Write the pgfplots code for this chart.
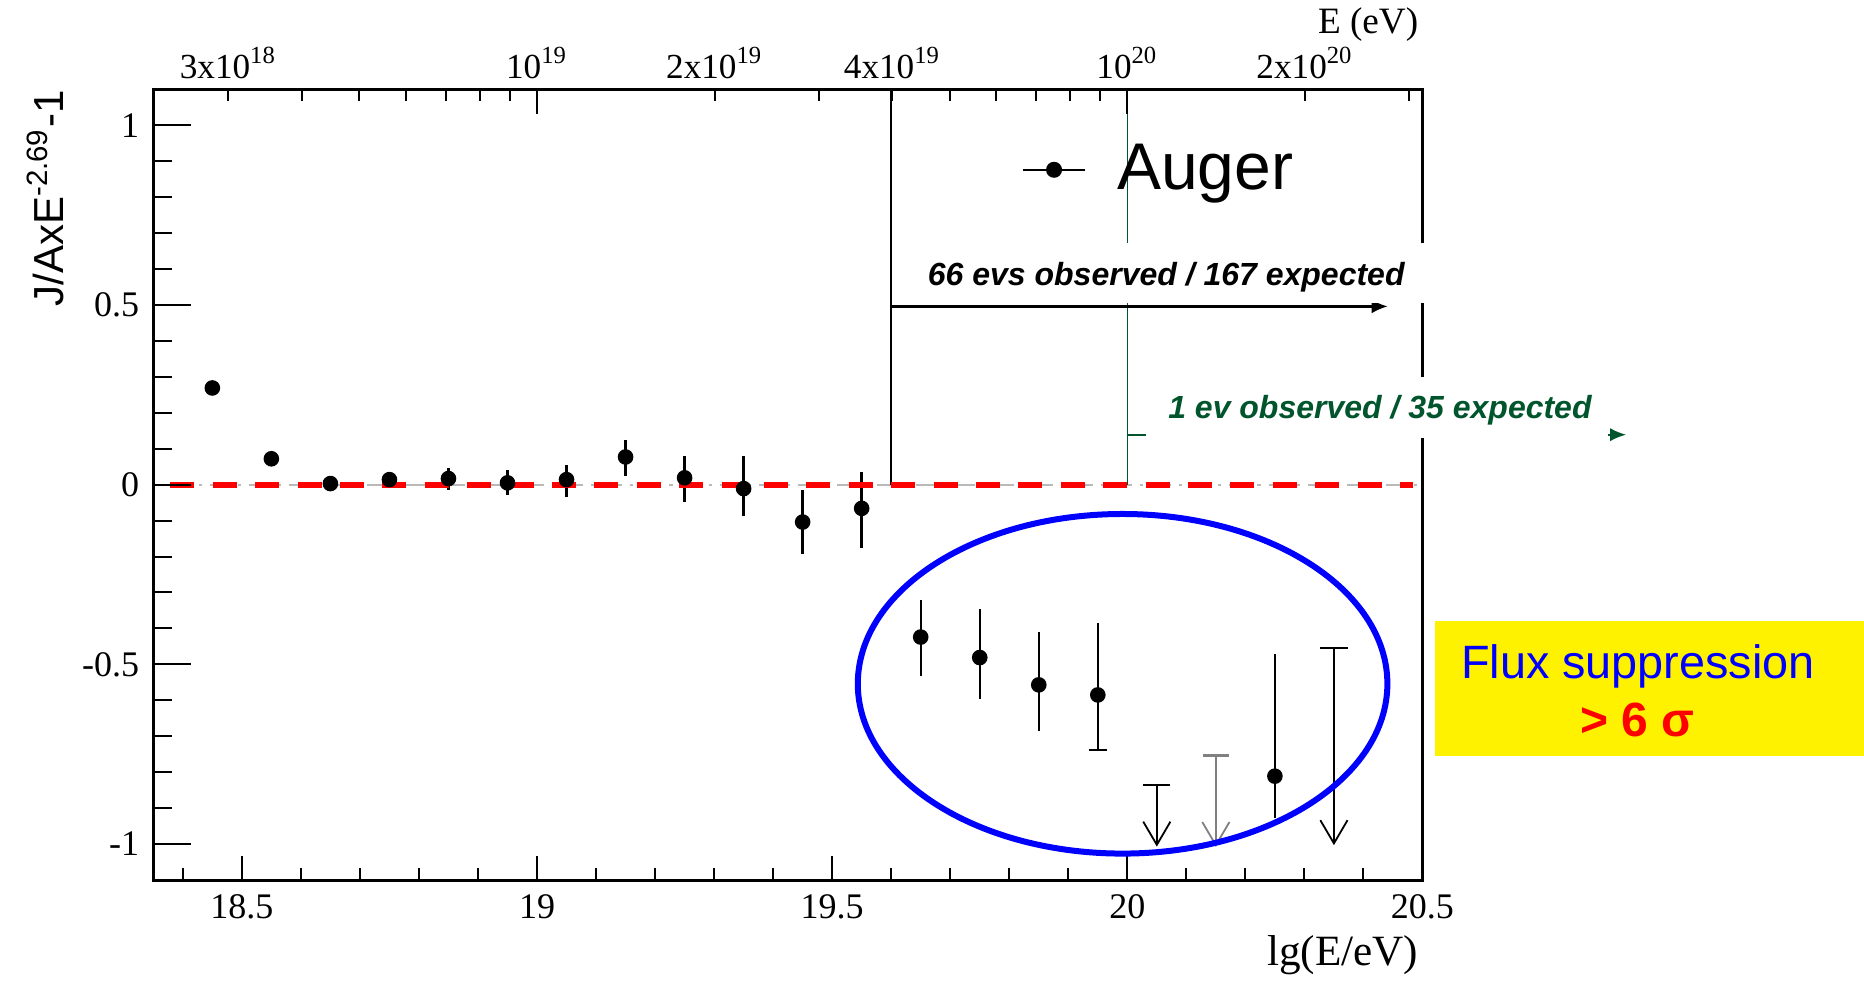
\documentclass[border=0pt]{standalone}
\usepackage{fontspec}
\setmainfont{Liberation Serif}
\newfontfamily\arial{Liberation Sans}
\usepackage{pgfplots}
\pgfplotsset{compat=1.18}
\usepackage{pgfplotstable}
\usetikzlibrary{arrows.meta}
\definecolor{dkgreen}{RGB}{0,85,45}

\pgfplotstableread{
x y ep em
18.45 0.269 0.004 0.004
18.55 0.072 0.006 0.006
18.65 0.003 0.010 0.010
18.75 0.014 0.015 0.015
18.85 0.017 0.029 0.031
18.95 0.005 0.035 0.035
19.05 0.014 0.042 0.049
19.15 0.077 0.048 0.054
19.25 0.019 0.060 0.068
19.35 -0.011 0.090 0.076
19.45 -0.104 0.088 0.090
19.55 -0.066 0.102 0.111
19.65 -0.424 0.103 0.107
19.75 -0.481 0.134 0.116
19.85 -0.557 0.146 0.129
19.95 -0.585 0.199 0.153
20.25 -0.811 0.339 0.116
}\augerdata

\pgfplotstableread{
x y v
20.05 -0.835 -0.172
20.35 -0.455 -0.548
}\ulblack

\pgfplotstableread{
x y v
20.15 -0.753 -0.255
}\ulgray

\pgfplotsset{
  common/.style={
    scale only axis, width=317.3pt, height=197.7pt,
    xmin=18.35, xmax=20.5, ymin=-1.1, ymax=1.1,
    axis line style={line width=0.75pt},
    tick align=inside,
    tick style={line width=0.5pt, black},
    /pgf/number format/assume math mode=true,
  }
}

\begin{document}
\begin{tikzpicture}
\begin{axis}[common,
  clip=false,
  xtick={18.5,19,19.5,20,20.5},
  minor xtick={18.4,18.6,18.7,18.8,18.9,19.1,19.2,19.3,19.4,19.6,19.7,19.8,19.9,20.1,20.2,20.3,20.4},
  xtick pos=left,
  ytick=\empty,
  major tick length=6pt, minor tick length=3pt,
  xticklabel style={font=\fontsize{9}{10}\selectfont},
  legend style={at={(axis cs:19.821,0.876)}, anchor=west, draw=none, fill=none,
    inner sep=0pt, outer sep=0pt, font=\arial\fontsize{16.5}{18}\selectfont,
    column sep=7.7pt, nodes={inner sep=0pt}},
  legend image code/.code={\draw[line width=0.5pt] (0pt,0pt) -- (15.7pt,0pt);
    \fill (7.85pt,0pt) circle (1.8pt);},
]
% invisible frame fixing the picture size
\path (rel axis cs:-0.1208,-0.1277) rectangle (rel axis cs:1.3479,1.1129);

\addplot[forget plot, color=gray!55, line width=0.5pt,
  dash pattern=on 5pt off 2pt on 0.8pt off 2pt] coordinates {(18.38,0) (20.49,0)};
\addplot[forget plot, black, line width=0.5pt] coordinates {(19.6,0) (19.6,1.1)};
\addplot[forget plot, dkgreen, line width=0.4pt] coordinates {(20,0) (20,1.1)};
\addplot[forget plot, black, line width=0.6pt, -{Latex[length=4pt,width=3.5pt]}]
  coordinates {(19.6,0.4958) (20.441,0.4958)};
\addplot[forget plot, dkgreen, line width=0.5pt, -{Latex[length=4pt,width=3.3pt]}]
  coordinates {(20,0.139) (20.845,0.139)};

\fill[white] (axis cs:19.65,0.505) rectangle (axis cs:20.56,0.672);
\fill[white] (axis cs:20.032,0.131) rectangle (axis cs:20.815,0.300);
\node[font=\arial\bfseries\itshape\fontsize{8}{9.6}\selectfont, anchor=base, inner sep=0pt]
  at (axis cs:20.066,0.553) {66 evs observed / 167 expected};
\node[font=\arial\bfseries\itshape\fontsize{8}{9.6}\selectfont, anchor=base, inner sep=0pt, text=dkgreen]
  at (axis cs:20.428,0.185) {1 ev observed / 35 expected};

\addplot[black, only marks, mark=*, mark size=1.75pt,
  error bars/.cd, y dir=both, y explicit, error mark=none,
  error bar style={line width=0.6pt}]
  table[x=x, y=y, y error plus=ep, y error minus=em] {\augerdata};
\addlegendentry{Auger}

\addplot[forget plot, only marks, black, mark=-, mark size=2.3pt, mark options={line width=0.5pt}]
  coordinates {(19.95,-0.738)};
\addplot[forget plot, only marks, black, mark=-, mark size=3.4pt, mark options={line width=0.6pt}]
  coordinates {(20.05,-0.835) (20.35,-0.455)};
\addplot[forget plot, only marks, gray, mark=-, mark size=3.2pt, mark options={line width=0.9pt}]
  coordinates {(20.15,-0.753)};
\addplot[forget plot, black, line width=0.45pt, quiver={u=0, v=\thisrow{v}},
  -{Straight Barb[length=5.8pt,width=6.8pt]}] table[x=x,y=y] {\ulblack};
\addplot[forget plot, gray, line width=0.45pt, quiver={u=0, v=\thisrow{v}},
  -{Straight Barb[length=5.8pt,width=6.8pt]}] table[x=x,y=y] {\ulgray};

\addplot[forget plot, red, line width=1.45pt, dash pattern=on 6pt off 4.6pt]
  coordinates {(18.379,0) (20.484,0)};

\draw[blue, line width=1.5pt] (axis cs:19.992,-0.554) ellipse [x radius=66.2pt, y radius=42.45pt];

\fill[yellow] (axis cs:20.521,-0.380) rectangle (axis cs:21.2477,-0.755);
\node[font=\arial\fontsize{11.7}{13}\selectfont, text=blue, anchor=base, inner sep=0pt]
  at (axis cs:20.865,-0.540) {Flux suppression};
\node[font=\arial\bfseries\fontsize{12}{14}\selectfont, text=red, anchor=base, inner sep=0pt]
  at (axis cs:20.864,-0.700) {> 6 σ};

\node[font=\fontsize{10.8}{12}\selectfont, anchor=base east, inner sep=0pt]
  at (rel axis cs:0.9973,-0.1075) {lg(E/eV)};
\node[font=\fontsize{9.3}{11}\selectfont, anchor=base east, inner sep=0pt]
  at (rel axis cs:0.9973,1.0708) {E (eV)};
\node[font=\arial\fontsize{10.5}{12}\selectfont, rotate=90, anchor=east, inner sep=0pt]
  at (rel axis cs:-0.0851,0.9997) {J/AxE\textsuperscript{-2.69}-1};
\end{axis}

% left y axis ticks
\begin{axis}[common,
  axis x line=none, axis y line*=left,
  ytick={-1,-0.5,0,0.5,1},
  minor ytick={-0.9,-0.8,-0.7,-0.6,-0.4,-0.3,-0.2,-0.1,0.1,0.2,0.3,0.4,0.6,0.7,0.8,0.9},
  major tick length=9.5pt, minor tick length=4.75pt,
  yticklabel style={font=\fontsize{9}{10}\selectfont},
]
\addplot[draw=none] coordinates {(19,0)};
\end{axis}

% top energy axis, short ticks with labels
\begin{axis}[common,
  axis y line=none, axis x line*=top,
  xtick={18.4771,19,19.3010,19.6021,20,20.3010},
  xticklabels={3x10\textsuperscript{18},10\textsuperscript{19},2x10\textsuperscript{19},4x10\textsuperscript{19},10\textsuperscript{20},2x10\textsuperscript{20}},
  minor xtick={18.6021,18.6990,18.7782,18.8451,18.9031,18.9542,19.4771,19.6990,19.7782,19.8451,19.9031,19.9542,20.4771},
  major tick length=2.9pt, minor tick length=2.9pt,
  xticklabel style={font=\fontsize{8.8}{10}\selectfont, yshift=-1pt},
]
\addplot[draw=none] coordinates {(19,0)};
\end{axis}

% top energy axis, long decade ticks
\begin{axis}[common,
  axis y line=none, axis x line*=top,
  xtick={19,20}, xticklabels={},
  major tick length=6.25pt,
]
\addplot[draw=none] coordinates {(19,0)};
\end{axis}
\end{tikzpicture}
\end{document}
